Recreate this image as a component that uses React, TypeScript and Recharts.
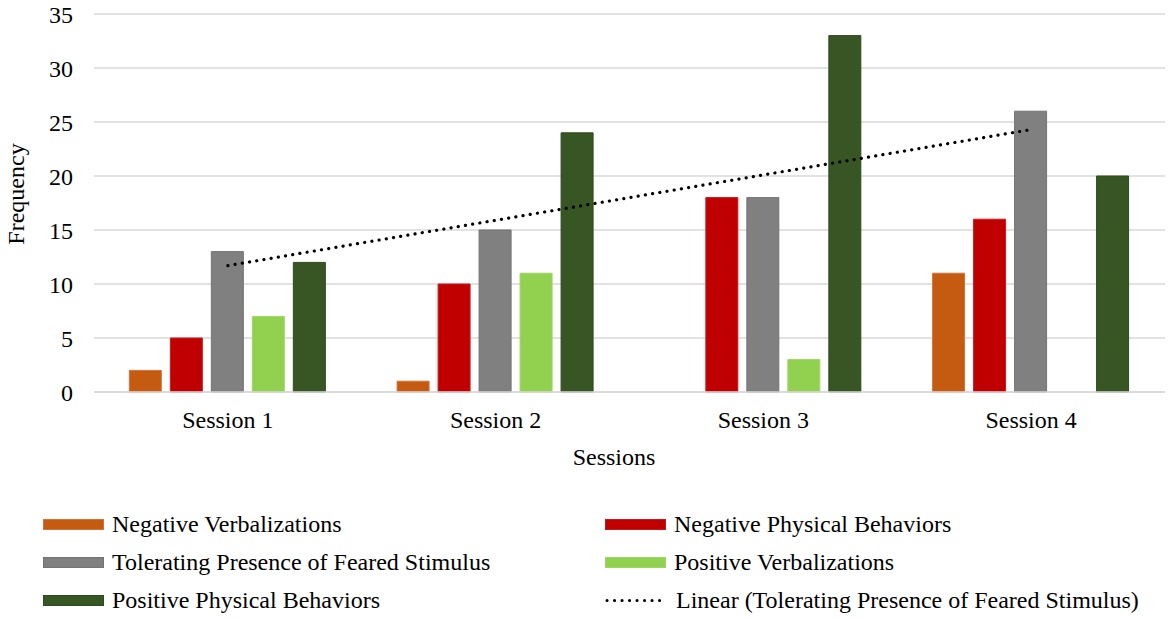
import React from 'react';
import { ComposedChart, Bar, Line, XAxis, YAxis, CartesianGrid, Label } from 'recharts';

const categories = ['Session 1', 'Session 2', 'Session 3', 'Session 4'];
const negativeVerbalizations = [2, 1, 0, 11];
const negativePhysical = [5, 10, 18, 16];
const tolerating = [13, 15, 18, 26];
const positiveVerbalizations = [7, 11, 3, 0];
const positivePhysical = [12, 24, 33, 20];
const linearTrend = [11.7, 15.9, 20.1, 24.3];
const yTicks = [0, 5, 10, 15, 20, 25, 30, 35];

const seriesNames = {
  nv: 'Negative Verbalizations',
  np: 'Negative Physical Behaviors',
  tp: 'Tolerating Presence of Feared Stimulus',
  pv: 'Positive Verbalizations',
  pp: 'Positive Physical Behaviors',
  trend: 'Linear (Tolerating Presence of Feared Stimulus)',
};

const colors = {
  nv: '#C55A11',
  np: '#C00000',
  tp: '#808080',
  pv: '#92D050',
  pp: '#375623',
};

const strokes = {
  nv: '#D0743A',
  np: '#C81A1A',
  tp: '#737373',
  pv: '#9ED664',
  pp: '#2F4A1E',
};

const data = categories.map((name, i) => ({
  name,
  nv: negativeVerbalizations[i],
  np: negativePhysical[i],
  tp: tolerating[i],
  pv: positiveVerbalizations[i],
  pp: positivePhysical[i],
  trend: linearTrend[i],
}));

const FONT = '"Liberation Serif", "Times New Roman", serif';

const legendItems: { key: keyof typeof seriesNames; col: number; row: number }[] = [
  { key: 'nv', col: 0, row: 0 },
  { key: 'np', col: 1, row: 0 },
  { key: 'tp', col: 0, row: 1 },
  { key: 'pv', col: 1, row: 1 },
  { key: 'pp', col: 0, row: 2 },
  { key: 'trend', col: 1, row: 2 },
];

export default function App() {
  return (
    <div style={{ position: 'absolute', left: 0, top: 0, width: 1170, height: 618, background: '#fff', fontFamily: FONT }}>
      <ComposedChart
        width={1170}
        height={618}
        data={data}
        margin={{ top: 14, right: 5, left: 0, bottom: 0 }}
        barCategoryGap="13.2%"
        barGap={9}
      >
        <CartesianGrid vertical={false} stroke="#D9D9D9" strokeWidth={1.5} />
        <XAxis
          dataKey="name"
          height={226}
          tickLine={false}
          tickSize={0}
          tickMargin={19}
          axisLine={{ stroke: '#D9D9D9', strokeWidth: 1.5 }}
          tick={{ fontSize: 24, fill: '#000', fontFamily: FONT }}
        >
          <Label
            content={() => (
              <text x={614} y={465} textAnchor="middle" fontSize={24} fill="#000" fontFamily={FONT}>
                Sessions
              </text>
            )}
          />
        </XAxis>
        <YAxis
          width={94}
          domain={[0, 35]}
          ticks={yTicks}
          tickLine={false}
          axisLine={false}
          tickSize={0}
          tickMargin={21}
          tick={{ fontSize: 24, fill: '#000', fontFamily: FONT }}
        >
          <Label
            content={() => (
              <text
                x={24}
                y={194}
                transform="rotate(-90 24 194)"
                textAnchor="middle"
                fontSize={24}
                fill="#000"
                fontFamily={FONT}
              >
                Frequency
              </text>
            )}
          />
        </YAxis>
        <Bar dataKey="nv" name={seriesNames.nv} fill={colors.nv} stroke={strokes.nv} strokeWidth={1} isAnimationActive={false} />
        <Bar dataKey="np" name={seriesNames.np} fill={colors.np} stroke={strokes.np} strokeWidth={1} isAnimationActive={false} />
        <Bar dataKey="tp" name={seriesNames.tp} fill={colors.tp} stroke={strokes.tp} strokeWidth={1} isAnimationActive={false} />
        <Bar dataKey="pv" name={seriesNames.pv} fill={colors.pv} stroke={strokes.pv} strokeWidth={1} isAnimationActive={false} />
        <Bar dataKey="pp" name={seriesNames.pp} fill={colors.pp} stroke={strokes.pp} strokeWidth={1} isAnimationActive={false} />
        <Line
          dataKey="trend"
          name={seriesNames.trend}
          stroke="#000"
          strokeWidth={3.2}
          strokeDasharray="0.1 7.2"
          strokeLinecap="round"
          dot={false}
          activeDot={false}
          isAnimationActive={false}
        />
      </ComposedChart>
      {legendItems.map((it) => {
        const left = it.col === 0 ? 43 : 605;
        const top = 505.5 + it.row * 38;
        return (
          <div
            key={it.key}
            style={{
              position: 'absolute',
              left,
              top,
              height: 38,
              display: 'flex',
              alignItems: 'center',
              fontSize: 24,
              fontFamily: FONT,
              color: '#000',
              whiteSpace: 'nowrap',
            }}
          >
            {it.key === 'trend' ? (
              <svg width={63} height={11} style={{ marginRight: 8 }}>
                <line x1={2} y1={5.5} x2={62} y2={5.5} stroke="#000" strokeWidth={3} strokeDasharray="0.1 7.4" strokeLinecap="round" />
              </svg>
            ) : (
              <div
                style={{
                  width: 61,
                  height: 11,
                  background: colors[it.key as keyof typeof colors],
                  boxSizing: 'border-box',
                  border: `1px solid ${strokes[it.key as keyof typeof strokes]}`,
                  marginRight: 8,
                }}
              />
            )}
            <span>{seriesNames[it.key]}</span>
          </div>
        );
      })}
    </div>
  );
}
